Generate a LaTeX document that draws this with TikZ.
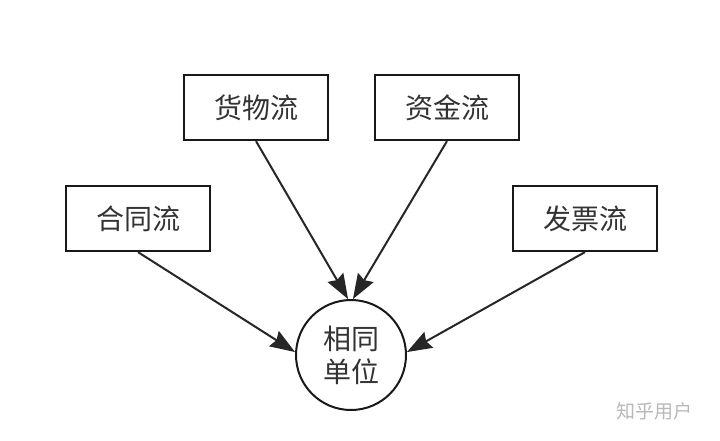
\documentclass[tikz,border=0pt]{standalone}
\usepackage{fontspec}
\setmainfont{Noto Sans CJK SC}
\usetikzlibrary{arrows.meta}
\begin{document}
\begin{tikzpicture}[x=1pt,y=-1pt,
  flowbox/.style={draw=black!90,line width=2.2pt,minimum width=144pt,minimum height=65pt,inner sep=0pt,font=\fontsize{28}{32}\selectfont,text=black!80},
  unitcircle/.style={draw=black!90,circle,line width=2pt,minimum size=110pt,inner sep=0pt,align=center,font=\fontsize{28}{33}\selectfont,text=black!80},
  flowarrow/.style={draw=black!85,line width=2pt,-{Stealth[length=25pt,width=18pt,inset=3pt]}},
  wm/.style={font=\fontsize{19}{20}\selectfont,text=black!28}]
\useasboundingbox (0,0) rectangle (720,440);
\fill[white] (0,0) rectangle (720,440);
\node[flowbox] (hw) at (256,107.5) {货物流};
\node[flowbox] (zj) at (447,107.5) {资金流};
\node[flowbox] (ht) at (138,218.5) {合同流};
\node[flowbox] (fp) at (585,218.5) {发票流};
\node[unitcircle] (c) at (351,355) {相同\\单位};
\draw[flowarrow] (hw.south) -- (c.93);
\draw[flowarrow] (zj.south) -- (c.88);
\draw[flowarrow] (ht.south) -- (c.177);
\draw[flowarrow] (fp.south) -- (c.3);
\node[wm] (mark) at (654,411) {知乎用户};
\end{tikzpicture}
\end{document}
